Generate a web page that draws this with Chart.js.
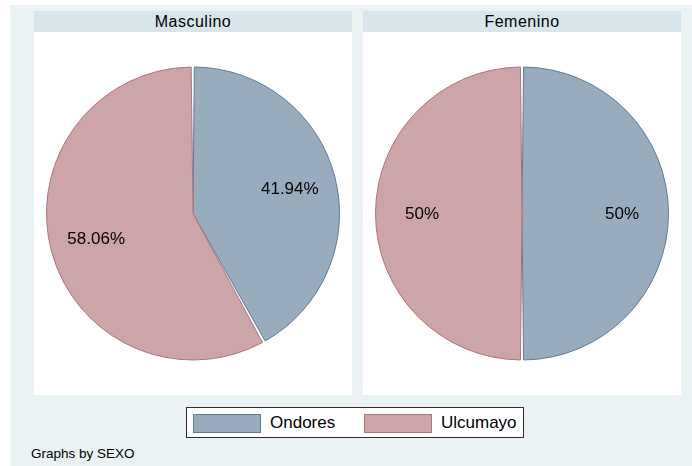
<!DOCTYPE html>
<html>
<head>
<meta charset="utf-8">
<script src="https://cdn.jsdelivr.net/npm/chart.js@4/dist/chart.umd.min.js"></script>
<style>
  html, body { margin:0; padding:0; background:#ffffff; }
  body { width:692px; height:466px; position:relative; overflow:hidden; font-family:"Liberation Sans", Arial, Helvetica, sans-serif; }
  #bg { position:absolute; left:10px; top:5px; right:0; bottom:0; background:#eaf2f3; }
  .strip { position:absolute; top:11px; height:21px; width:318px; background:#d8e5ea; color:#000; font-size:16px; letter-spacing:0.5px; line-height:21px; text-align:center; }
  .plot { position:absolute; top:32px; width:318px; height:363px; background:#ffffff; }
  .plot canvas { display:block; }
  #legend { position:absolute; left:186px; top:407px; width:336px; height:29px; background:#fff; border:1px solid #2b2b2b; }
  .sw { position:absolute; top:6px; width:66px; height:17px; }
  .lt { position:absolute; top:4px; font-size:17px; line-height:22px; color:#000; }
  #note { position:absolute; left:31px; top:446px; font-size:13.5px; color:#000; }
</style>
</head>
<body>
<div id="bg"></div>
<div class="strip" id="t0" style="left:34px;"></div>
<div class="strip" id="t1" style="left:363px;"></div>
<div class="plot" style="left:34px;"><canvas id="c0" width="318" height="363"></canvas></div>
<div class="plot" style="left:363px;"><canvas id="c1" width="318" height="363"></canvas></div>
<div id="legend">
  <div class="sw" id="sw0" style="left:6px;"></div>
  <div class="lt" id="lt0" style="left:83px;"></div>
  <div class="sw" id="sw1" style="left:177px;"></div>
  <div class="lt" id="lt1" style="left:254px;"></div>
</div>
<div id="note">Graphs by SEXO</div>
<script>
const categories = ['Ondores', 'Ulcumayo'];
const panelTitles = ['Masculino', 'Femenino'];
const masculinoPct = [41.94, 58.06];
const femeninoPct = [50, 50];

const fills = ['#98acbe', '#cda4a8'];
const borders = ['#5c7b97', '#b0737a'];

document.getElementById('t0').textContent = panelTitles[0];
document.getElementById('t1').textContent = panelTitles[1];
categories.forEach((c, i) => {
  document.getElementById('lt' + i).textContent = c;
  const s = document.getElementById('sw' + i);
  s.style.background = fills[i];
  s.style.border = '1px solid ' + borders[i];
});

const pctLabels = {
  id: 'pctLabels',
  afterDatasetsDraw(chart) {
    const ctx = chart.ctx;
    const meta = chart.getDatasetMeta(0);
    const vals = chart.data.datasets[0].data;
    ctx.save();
    ctx.font = '17px "Liberation Sans", Arial, sans-serif';
    ctx.fillStyle = '#000';
    ctx.textAlign = 'center';
    ctx.textBaseline = 'middle';
    meta.data.forEach((arc, i) => {
      const p = arc.getProps(['x', 'y', 'startAngle', 'endAngle', 'outerRadius'], true);
      const mid = (p.startAngle + p.endAngle) / 2;
      const r = p.outerRadius * 0.685;
      ctx.fillText(String(vals[i]) + '%', p.x + Math.cos(mid) * r, p.y + 1 + Math.sin(mid) * r);
    });
    ctx.restore();
  }
};

function makePie(id, values) {
  new Chart(document.getElementById(id), {
    type: 'pie',
    data: {
      labels: categories,
      datasets: [{
        data: values,
        backgroundColor: fills,
        borderColor: borders,
        borderWidth: 1,
        spacing: 1
      }]
    },
    options: {
      responsive: false,
      animation: false,
      radius: 146,
      layout: { padding: 0 },
      plugins: { legend: { display: false }, tooltip: { enabled: false } }
    },
    plugins: [pctLabels]
  });
}
makePie('c0', masculinoPct);
makePie('c1', femeninoPct);
</script>
</body>
</html>
